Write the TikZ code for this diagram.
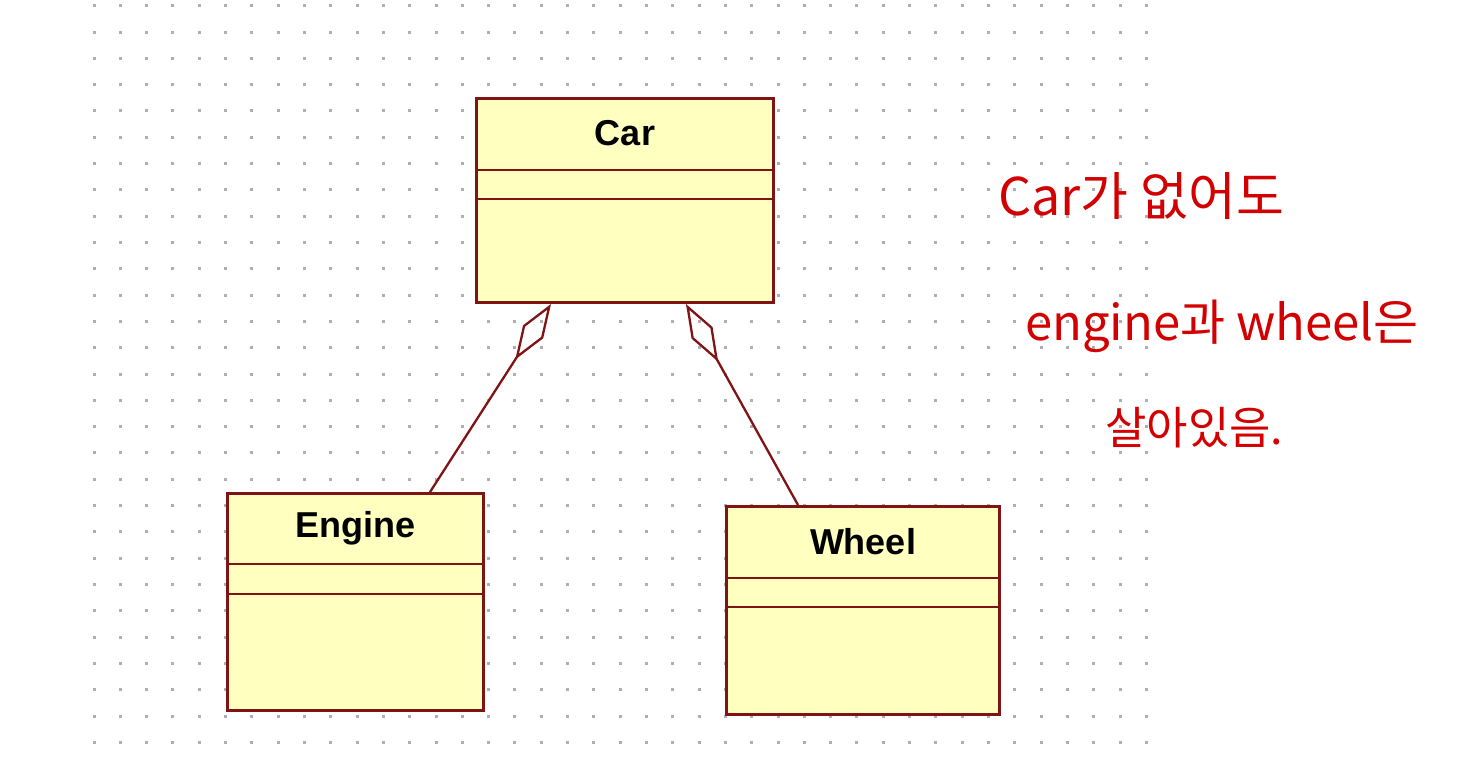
\documentclass[tikz,border=0pt]{standalone}
\usepackage{fontspec}
\setmainfont{Liberation Sans}
\newfontfamily\kofont{Noto Sans CJK KR}
\usetikzlibrary{arrows.meta}
\definecolor{umlred}{RGB}{128,20,20}
\definecolor{umlfill}{RGB}{255,255,192}
\definecolor{dotgray}{RGB}{175,175,175}
\definecolor{pen}{RGB}{210,0,0}
\begin{document}
\begin{tikzpicture}[x=1pt,y=-1pt,
  classbox/.style={draw=umlred,fill=umlfill,line width=3pt,inner sep=0pt,anchor=north west},
  titletext/.style={font=\fontsize{36}{40}\selectfont\bfseries,text=black,inner sep=0pt},
  divider/.style={draw=umlred,line width=2.8pt},
  agg/.style={draw=umlred,line width=2.3pt,{Diamond[open,length=66pt,width=24pt,line width=2.3pt]}-},
  hand/.style={font=\kofont\fontsize{46}{50}\selectfont,text=pen,inner sep=0pt,anchor=west}]
\useasboundingbox (0,0) rectangle (1478,764);
\fill[white] (0,0) rectangle (1478,764);
\foreach \i in {0,...,40}{\foreach \j in {0,...,28}{\fill[dotgray] (92.5+26.31*\i,4.2+26.31*\j) rectangle ++(3,3);}}
% Car
\node[classbox,minimum width=297pt,minimum height=204pt] (car) at (475,97) {};
\draw[divider] ([yshift=-73pt]car.north west) -- ([yshift=-73pt]car.north east);
\draw[divider] ([yshift=-102pt]car.north west) -- ([yshift=-102pt]car.north east);
\node[titletext] (cartitle) at ([yshift=-36.5pt]car.north) {Car};
% Engine
\node[classbox,minimum width=256pt,minimum height=217pt] (engine) at (226,492) {};
\draw[divider] ([yshift=-72pt]engine.north west) -- ([yshift=-72pt]engine.north east);
\draw[divider] ([yshift=-102pt]engine.north west) -- ([yshift=-102pt]engine.north east);
\node[titletext] (enginetitle) at ([yshift=-36pt]engine.north) {Engine};
% Wheel
\node[classbox,minimum width=273pt,minimum height=208pt] (wheel) at (725,505) {};
\draw[divider] ([yshift=-73pt]wheel.north west) -- ([yshift=-73pt]wheel.north east);
\draw[divider] ([yshift=-102pt]wheel.north west) -- ([yshift=-102pt]wheel.north east);
\node[titletext] (wheeltitle) at ([yshift=-36.5pt]wheel.north) {Wheel};
% aggregations
\draw[agg] ([xshift=76pt]car.south west) -- ([xshift=204pt]engine.north west);
\draw[agg] ([xshift=211pt]car.south west) -- ([xshift=73pt]wheel.north west);
% handwritten note
\node[hand,font=\kofont\fontsize{52}{56}\selectfont] (note1) at (998,196) {Car가 없어도};
\node[hand,font=\kofont\fontsize{49}{54}\selectfont] (note2) at (1025,326) {engine과 wheel은};
\node[hand,font=\kofont\fontsize{45}{50}\selectfont] (note3) at (1105,428) {살아있음.};
\end{tikzpicture}
\end{document}
